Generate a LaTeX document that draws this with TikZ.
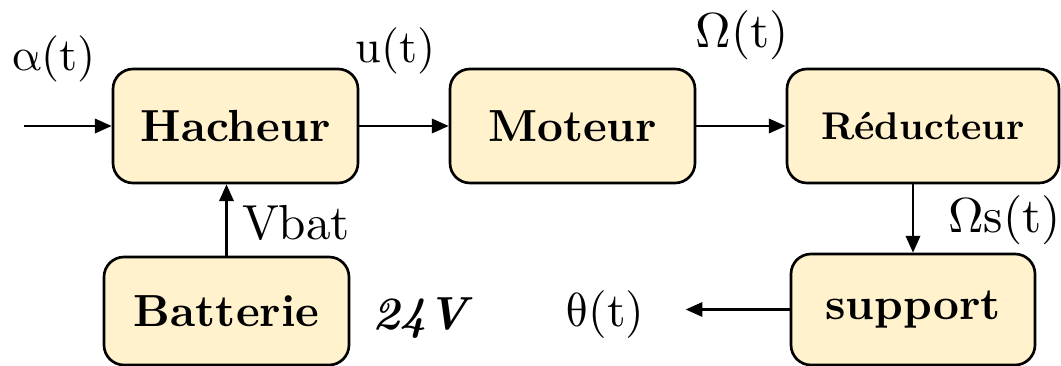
\documentclass[tikz,border=0pt]{standalone}
\usepackage{fontspec}
\setmainfont{lmroman10}[Extension=.otf, UprightFont=*-regular,
  BoldFont=*-bold, ItalicFont=*-italic, BoldItalicFont=*-bolditalic]
\newfontfamily\grkfont{Latin Modern Math}
\usepackage{xcolor}
\usepackage{tikz}
\usetikzlibrary{arrows.meta, calc, positioning}
\definecolor{blocfill}{HTML}{FFF2CC}

\begin{document}
\begin{tikzpicture}[
    block/.style ={draw=black, line width=1.9pt, fill=blocfill,
                   rounded corners=0.5cm, align=center,
                   minimum width=6.125cm, minimum height=2.85cm,
                   font=\fontsize{32}{37}\selectfont\bfseries},
    arr/.style   ={-{Triangle[length=0.42cm,width=0.36cm]},
                   line width=1.6pt, draw=black},
    lbl/.style   ={font=\fontsize{33}{38}\selectfont, inner sep=0pt},
  ]

  %% --- frame ------------------------------------------------------------
  \useasboundingbox (0,0) rectangle (26.525,9.15);

  %% --- blocks -----------------------------------------------------------
  \node[block] (hach) at (5.8875,6.0) {Hacheur};
  \node[block] (mot)  at (14.3125,6.0) {Moteur};
  \node[block, minimum width=6.8cm,
        font=\fontsize{27.5}{32}\selectfont\bfseries] (red) at (23.075,6.0)
        {Réducteur};
  \node[block, minimum height=2.7cm] (bat) at (5.6625,1.375) {Batterie};
  \node[block, minimum width=6.1cm, minimum height=2.775cm] (sup)
        at (22.825,1.4125) {support};

  %% --- free ends --------------------------------------------------------
  \coordinate (in) at (0.6,6.0);
  \coordinate[left=2.6cm of sup.west] (out);

  %% --- signals ----------------------------------------------------------
  \node[lbl] (alpha) at (1.3375,7.6875) {{\grkfont α}(t)};
  \node[lbl] (u) at (9.8875,7.8875) {u(t)};
  \node[lbl, font=\fontsize{35}{40}\selectfont] (omega) at (18.55,8.275)
        {{\grkfont Ω}(t)};
  \node[lbl, font=\fontsize{35}{40}\selectfont] (omegas) at (25.1125,3.65)
        {{\grkfont Ω}s(t)};
  \node[lbl, font=\fontsize{35}{40}\selectfont] (vbat) at (7.4,3.575) {Vbat};
  \node[lbl, font=\fontsize{33}{38}\selectfont\bfseries\itshape] (volt)
        at (10.5,1.1875) {24V};
  \node[lbl, font=\fontsize{34}{39}\selectfont] (theta) at (15.125,1.275)
        {{\grkfont θ}(t)};

  %% --- connectors -------------------------------------------------------
  \draw[arr] (in) -- (hach);
  \draw[arr] (hach) -- (mot);
  \draw[arr] (mot) -- (red);
  \draw[arr] (red.south -| sup.north) -- (sup.north);
  \draw[arr] (bat.north) -- (bat.north |- hach.south);
  \draw[arr] (sup.west) -- (out);

\end{tikzpicture}
\end{document}
